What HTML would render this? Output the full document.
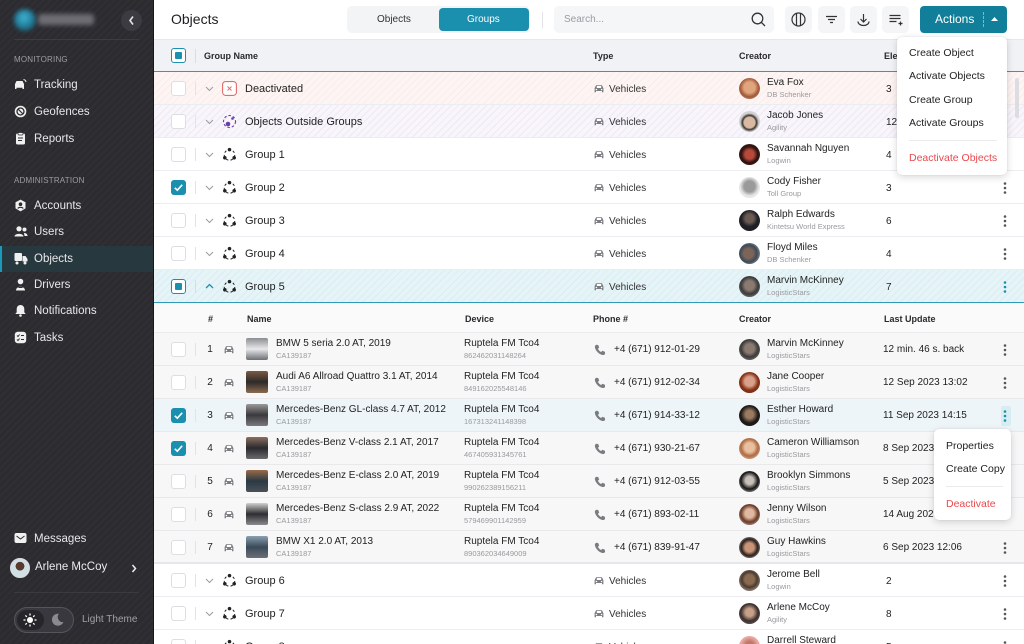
<!DOCTYPE html>
<html><head><meta charset="utf-8">
<style>
*{box-sizing:border-box;margin:0;padding:0}
html,body{width:1024px;height:644px;overflow:hidden;background:#fff;font-family:"Liberation Sans",Arial,sans-serif;color:#222}
#root{position:relative;width:1024px;height:644px;overflow:hidden;background:#fff}
.a{position:absolute}
#sb{position:absolute;left:0;top:0;width:154px;height:644px;background:#2b2b30;background-image:repeating-linear-gradient(135deg,rgba(255,255,255,0.018) 0 2px,rgba(0,0,0,0) 2px 5px);border-right:1px solid #17171a;overflow:hidden}
.si{position:absolute;left:0;width:153px;height:26px;font-size:11.5px;color:#e8e8ea;line-height:26px}
.si span{position:absolute;left:34px}
.si svg{position:absolute;left:14px;top:6px}
.sec{position:absolute;left:14px;font-size:8px;color:#9c9ca2;letter-spacing:0.2px}
.row{position:absolute;left:154px;width:870px;height:33px;border-bottom:1px solid #ecedf0;background:#fff}
.row>*{position:absolute}
.cb{left:17px;top:9px;width:15px;height:15px;border:1px solid #dcdee3;border-radius:3px;background:#fff}
.cbc{left:17px;top:9px;width:15px;height:15px;border-radius:3px;background:#1a8fae}
.cbi{left:17px;top:9px;width:15px;height:15px;border-radius:3px;border:1.5px solid #1a8fae;background:#fff}
.cbi:after{content:"";position:absolute;left:2.5px;top:2.5px;width:7px;height:7px;background:#1a8fae;border-radius:1px}
.sep{left:41px;top:10px;width:1px;height:13px;background:#e2e3e7}
.chev{left:51px;top:14px}
.gi{left:68px;top:9px}
.gn{left:91px;top:1px;line-height:33px;font-size:11px;color:#222}
.car{left:440px;top:12px}
.vt{left:455px;top:1px;line-height:33px;font-size:10px;color:#333}
.av{left:585px;top:6px;width:21px;height:21px;border-radius:50%}
.cn{left:613px;top:5px;font-size:10px;line-height:12px;color:#222;white-space:nowrap}
.cs{left:613px;top:18px;font-size:7.5px;line-height:10px;color:#9a9a9f;white-space:nowrap}
.el{left:732px;top:1px;line-height:33px;font-size:10px;color:#222}
.kb{left:849px;top:10px}
.nr{background:#f7f7f8;border-bottom:1px solid #e9e9ec}
.num{left:51px;width:10px;text-align:center;top:0;line-height:33px;font-size:10px;color:#222}
.ncar{left:70px;top:12px}
.th{left:92px;top:5px;width:22px;height:22px;border-radius:2px}
.nn{left:122px;top:5px;font-size:10px;line-height:12px;color:#222;white-space:nowrap}
.ns{left:122px;top:18px;font-size:7.5px;line-height:10px;color:#9a9a9f}
.dv{left:310px;top:5px;font-size:10px;line-height:12px;color:#222}
.ds{left:310px;top:18px;font-size:7.5px;line-height:10px;color:#9a9a9f}
.phi{left:440px;top:11px}
.pt{left:460px;top:0;line-height:33px;font-size:10px;color:#222}
.lu{left:729px;top:0;line-height:33px;font-size:10px;color:#222;white-space:nowrap}
.hd{font-size:9px;font-weight:bold;color:#2a2a2e;position:absolute}
.ib{position:absolute;top:6px;width:27px;height:27px;background:#f4f5f7;border-radius:5px}
.ib svg{position:absolute;left:6px;top:6px}
.dd{position:absolute;background:#fff;border-radius:5px;box-shadow:0 2px 8px rgba(0,0,0,0.16),0 0 1px rgba(0,0,0,0.15);z-index:20}
.dd div{position:absolute;font-size:10.5px;color:#222;white-space:nowrap}
</style></head><body>
<div id="root">
<svg width="0" height="0" style="position:absolute">
<defs>
<symbol id="grp" viewBox="0 0 16 16"><circle cx="8" cy="8.5" r="5.6" fill="none" stroke="#222" stroke-width="1.1" stroke-dasharray="2.6 2.4"/><circle cx="8" cy="2.8" r="1.9" fill="#222"/><circle cx="3" cy="11.5" r="1.9" fill="#222"/><circle cx="13" cy="11.5" r="1.9" fill="#222"/></symbol>
<symbol id="chv" viewBox="0 0 9 6"><polyline points="1,1 4.5,4.5 8,1" fill="none" stroke="#9a9ca3" stroke-width="1"/></symbol>
<symbol id="car" viewBox="0 0 10 9"><path d="M2 1.2h6l1.4 3v4H8V7H2v1.2H0.6v-4z" fill="#7a7c82"/><rect x="2.8" y="2" width="4.4" height="2" fill="#fff"/><circle cx="2.4" cy="5.5" r="0.8" fill="#fff"/><circle cx="7.6" cy="5.5" r="0.8" fill="#fff"/></symbol>
<symbol id="kb" viewBox="0 0 4 14"><circle cx="2" cy="2.5" r="1.3" fill="#555"/><circle cx="2" cy="7" r="1.3" fill="#555"/><circle cx="2" cy="11.5" r="1.3" fill="#555"/></symbol>
<symbol id="kbt" viewBox="0 0 4 14"><circle cx="2" cy="2.5" r="1.3" fill="#1a8fae"/><circle cx="2" cy="7" r="1.3" fill="#1a8fae"/><circle cx="2" cy="11.5" r="1.3" fill="#1a8fae"/></symbol>
<symbol id="ph" viewBox="0 0 12 12"><path d="M2.2 0.8l2 0.2 1 2.6-1.3 1.1c0.7 1.5 1.8 2.6 3.3 3.3l1.1-1.3 2.6 1 0.2 2c-0.5 1-1.5 1.5-2.6 1.3C5 10.3 1.7 7 0.9 3.4 0.7 2.3 1.2 1.3 2.2 0.8z" fill="#7a7c82"/></symbol>
<symbol id="chk" viewBox="0 0 15 15"><polyline points="3.8,7.8 6.3,10.2 11.2,4.8" fill="none" stroke="#fff" stroke-width="1.6"/></symbol>
</defs></svg>

<!-- SIDEBAR -->
<div id="sb">
  <div class="a" style="left:14px;top:9px;width:22px;height:22px;border-radius:50%;background:radial-gradient(circle at 45% 40%,#3fb6d6,#1d6f8a 60%,#3a3a40);filter:blur(2px)"></div>
  <div class="a" style="left:38px;top:14px;width:56px;height:11px;background:#6d6d74;border-radius:3px;filter:blur(2.5px)"></div>
  <div class="a" style="left:121px;top:10px;width:21px;height:21px;border-radius:50%;background:#3b3b41"></div>
  <svg class="a" style="left:128px;top:15px" width="7" height="11" viewBox="0 0 7 11"><polyline points="5,1.5 2,5.5 5,9.5" fill="none" stroke="#e5e5e7" stroke-width="1.6"/></svg>
  <div class="a" style="left:14px;top:39px;width:125px;height:1px;background:#3c3c42"></div>
  <div class="sec" style="top:55px">MONITORING</div>
  <div class="si" style="top:72px"><svg width="13" height="13" viewBox="0 0 13 13"><path d="M1 6l1.5-3h6L10 6v5H8.5v-1.2h-6V11H1z" fill="#f0f0f0"/><path d="M9.5 1.5a3 3 0 0 1 2.5 2.5" stroke="#f0f0f0" fill="none" stroke-width="1"/></svg><span>Tracking</span></div>
  <div class="si" style="top:99px"><svg width="13" height="13" viewBox="0 0 13 13"><circle cx="6.5" cy="6.5" r="5.8" fill="#f0f0f0"/><circle cx="6.5" cy="6.5" r="3.5" fill="none" stroke="#2b2b30" stroke-width="1.3"/><path d="M4 4l5 5" stroke="#2b2b30" stroke-width="1.2"/></svg><span>Geofences</span></div>
  <div class="si" style="top:126px"><svg width="13" height="13" viewBox="0 0 13 13"><rect x="2" y="1.5" width="9" height="11" rx="1.5" fill="#f0f0f0"/><rect x="4" y="0.5" width="5" height="2.5" rx="1" fill="#f0f0f0" stroke="#2b2b30" stroke-width="0.7"/><path d="M4 6h5M4 8.5h4" stroke="#2b2b30" stroke-width="1"/></svg><span>Reports</span></div>
  <div class="sec" style="top:176px">ADMINISTRATION</div>
  <div class="si" style="top:193px"><svg width="13" height="13" viewBox="0 0 13 13"><path d="M6.5 0.6l5 2.6v6.2l-5 3-5-3V3.2z" fill="#f0f0f0"/><circle cx="6.5" cy="5.2" r="1.8" fill="#2b2b30"/><path d="M3.8 9.5c0.8-1.6 4.6-1.6 5.4 0" stroke="#2b2b30" stroke-width="1.2" fill="none"/></svg><span>Accounts</span></div>
  <div class="si" style="top:219px"><svg width="14" height="13" viewBox="0 0 14 13"><circle cx="5" cy="3.8" r="2.6" fill="#f0f0f0"/><path d="M0.5 11.5c0-3.5 9-3.5 9 0z" fill="#f0f0f0"/><circle cx="10.5" cy="4.5" r="2" fill="#f0f0f0"/><path d="M10 8c2 0 3.5 1 3.5 3h-3z" fill="#f0f0f0"/></svg><span>Users</span></div>
  <div class="a" style="left:0;top:246px;width:153px;height:26px;background:#27393f"></div>
  <div class="a" style="left:0;top:246px;width:2px;height:26px;background:#1a9bbb"></div>
  <div class="si" style="top:246px"><svg width="14" height="13" viewBox="0 0 14 13"><rect x="0.5" y="1" width="7.5" height="8" rx="1" fill="#f0f0f0"/><path d="M8.5 4h3l2 3v2.5h-5z" fill="#f0f0f0"/><circle cx="3" cy="11" r="1.5" fill="#f0f0f0"/><circle cx="11" cy="11" r="1.5" fill="#f0f0f0"/></svg><span>Objects</span></div>
  <div class="si" style="top:272px"><svg width="13" height="13" viewBox="0 0 13 13"><circle cx="6.5" cy="3.5" r="2.8" fill="#f0f0f0"/><path d="M2 12.5c0-5 9-5 9 0z" fill="#f0f0f0"/><path d="M4.5 9.5h4" stroke="#2b2b30" stroke-width="1"/></svg><span>Drivers</span></div>
  <div class="si" style="top:298px"><svg width="13" height="13" viewBox="0 0 13 13"><path d="M6.5 1c2.5 0 3.8 1.8 3.8 4.2v3l1.4 1.8H1.3l1.4-1.8v-3C2.7 2.8 4 1 6.5 1z" fill="#f0f0f0"/><circle cx="6.5" cy="11.5" r="1.3" fill="#f0f0f0"/></svg><span>Notifications</span></div>
  <div class="si" style="top:325px"><svg width="13" height="13" viewBox="0 0 13 13"><rect x="0.8" y="0.8" width="11.4" height="11.4" rx="3" fill="#f0f0f0"/><path d="M3 4.5l1 1 1.6-2M3 8.5l1 1 1.6-2M7 4.5h3M7 8.5h3" stroke="#2b2b30" stroke-width="1" fill="none"/></svg><span>Tasks</span></div>
  <div class="si" style="top:526px"><svg width="13" height="12" viewBox="0 0 13 12"><rect x="0.5" y="1" width="12" height="10" rx="2" fill="#f0f0f0"/><polyline points="2.5,4 6.5,7 10.5,4" stroke="#2b2b30" stroke-width="1" fill="none"/></svg><span>Messages</span></div>
  <div class="a" style="left:10px;top:558px;width:20px;height:20px;border-radius:50%;background:radial-gradient(circle at 50% 40%,#5a3a2c 0 30%,#cfe1e6 32% 100%);border:1px solid #ddd"></div>
  <div class="a" style="left:35px;top:561px;font-size:11.5px;color:#ececee">Arlene McCoy</div>
  <svg class="a" style="left:131px;top:564px" width="6" height="9" viewBox="0 0 6 9"><polyline points="1.5,1 4.5,4.5 1.5,8" fill="none" stroke="#eee" stroke-width="1.5"/></svg>
  <div class="a" style="left:14px;top:592px;width:125px;height:1px;background:#3a3a40"></div>
  <div class="a" style="left:14px;top:607px;width:60px;height:26px;border-radius:13px;background:#38383e;border:1px solid #55555b"></div>
  <div class="a" style="left:17px;top:610px;width:27px;height:20px;border-radius:10px;background:#26262a"></div>
  <svg class="a" style="left:23px;top:613px" width="14" height="14" viewBox="0 0 14 14"><circle cx="7" cy="7" r="3" fill="#fff"/><g stroke="#fff" stroke-width="1.3"><path d="M7 0.5v2M7 11.5v2M0.5 7h2M11.5 7h2M2.4 2.4l1.4 1.4M10.2 10.2l1.4 1.4M2.4 11.6l1.4-1.4M10.2 3.8l1.4-1.4"/></g></svg>
  <svg class="a" style="left:52px;top:613px" width="12" height="13" viewBox="0 0 12 13"><path d="M7 0.8A6 6 0 1 0 11.5 9 5 5 0 0 1 7 0.8z" fill="#8a8a90"/></svg>
  <div class="a" style="left:82px;top:614px;font-size:10px;color:#a0a0a6">Light Theme</div>
</div>

<!-- TOP BAR -->
<div class="a" style="left:154px;top:0;width:870px;height:40px;background:#fff;border-bottom:1px solid #e6e7eb"></div>
<div class="a" style="left:171px;top:11px;font-size:14px;color:#1e1e22">Objects</div>
<div class="a" style="left:347px;top:6px;width:183px;height:27px;background:#f3f4f6;border-radius:5px"></div>
<div class="a" style="left:377px;top:14px;font-size:10px;color:#333">Objects</div>
<div class="a" style="left:439px;top:8px;width:90px;height:23px;background:#1a8fae;border-radius:4px"></div>
<div class="a" style="left:467px;top:14px;font-size:10px;color:#fff">Groups</div>
<div class="a" style="left:542px;top:12px;width:1px;height:16px;background:#e2e3e7"></div>
<div class="a" style="left:554px;top:6px;width:220px;height:27px;background:#f5f6f8;border-radius:5px"></div>
<div class="a" style="left:564px;top:14px;font-size:10px;color:#9a9ca2">Search...</div>
<svg class="a" style="left:751px;top:12px" width="15" height="15" viewBox="0 0 15 15"><circle cx="6.5" cy="6.5" r="5.3" fill="none" stroke="#333" stroke-width="1.3"/><path d="M10.5 10.5l3.5 3.5" stroke="#333" stroke-width="1.3"/></svg>
<div class="ib" style="left:785px"><svg width="15" height="15" viewBox="0 0 15 15"><circle cx="7.5" cy="7.5" r="6.5" fill="none" stroke="#333" stroke-width="1.2"/><path d="M5.5 1.5v12M9.5 1.5v12" stroke="#333" stroke-width="1.2"/></svg></div>
<div class="ib" style="left:818px"><svg width="15" height="15" viewBox="0 0 15 15"><path d="M2 4.5h11M4 7.5h7M6 10.5h3" stroke="#333" stroke-width="1.2"/></svg></div>
<div class="ib" style="left:850px"><svg width="15" height="15" viewBox="0 0 15 15"><path d="M7.5 2v8M4.5 7l3 3 3-3" stroke="#333" stroke-width="1.2" fill="none"/><path d="M2 9.5a5.5 4 0 0 0 11 0" stroke="#333" stroke-width="1.2" fill="none"/></svg></div>
<div class="ib" style="left:882px"><svg width="15" height="15" viewBox="0 0 15 15"><path d="M1.5 3.5h11M1.5 6.5h11M1.5 9.5h7M10.5 11.5h4M12.5 9.5v4" stroke="#333" stroke-width="1.2"/></svg></div>
<div class="a" style="left:920px;top:6px;width:87px;height:27px;background:#127f9a;border-radius:4px"></div>
<div class="a" style="left:935px;top:12px;font-size:12px;color:#fff">Actions</div>
<div class="a" style="left:983px;top:12px;width:0;height:15px;border-left:1px dashed rgba(255,255,255,0.45)"></div>
<svg class="a" style="left:990px;top:16px" width="9" height="6" viewBox="0 0 9 6"><path d="M1 5l3.5-4 3.5 4z" fill="#fff"/></svg>

<!-- TABLE HEADER -->
<div class="a" style="left:154px;top:40px;width:870px;height:32px;background:#f1f2f5;border-bottom:1px solid #2f9bb6"></div>
<div class="a cbi" style="left:171px;top:48px;position:absolute"></div>
<div class="a" style="left:195px;top:49px;width:1px;height:14px;background:#dcdde2"></div>
<div class="hd" style="left:204px;top:51px">Group Name</div>
<div class="hd" style="left:593px;top:51px">Type</div>
<div class="hd" style="left:739px;top:51px">Creator</div>
<div class="hd" style="left:884px;top:51px">Elements</div>

<!-- GROUP ROWS -->
<div class="row" style="top:72px;background:repeating-linear-gradient(135deg,#fbecea 0 1px,#fdf5f4 1px 5px)">
  <div class="cb"></div><div class="sep"></div><svg class="chev" width="9" height="6"><use href="#chv"/></svg>
  <svg class="gi" style="left:68px;top:9px" width="15" height="15" viewBox="0 0 15 15"><rect x="0.6" y="0.6" width="13.8" height="13.8" rx="3" fill="#fff" stroke="#e56b6b" stroke-width="1.1"/><path d="M5.5 5.5l4 4M9.5 5.5l-4 4" stroke="#e56b6b" stroke-width="1"/></svg>
  <div class="gn">Deactivated</div>
  <svg class="car" width="10" height="9"><use href="#car"/></svg><div class="vt">Vehicles</div>
  <div class="av" style="background:radial-gradient(circle at 50% 45%,#e0a57c 0 35%,#a0583a 60%,#d6b39a)"></div>
  <div class="cn">Eva Fox</div><div class="cs">DB Schenker</div><div class="el">3</div>
</div>
<div class="row" style="top:105px;background:repeating-linear-gradient(135deg,#efe9f6 0 1px,#f8f5fb 1px 5px)">
  <div class="cb"></div><div class="sep"></div><svg class="chev" width="9" height="6"><use href="#chv"/></svg>
  <svg class="gi" style="left:68px;top:9px" width="15" height="15" viewBox="0 0 15 15"><circle cx="7.5" cy="7.5" r="6" fill="none" stroke="#6a3fa3" stroke-width="1.1" stroke-dasharray="2.5 2"/><circle cx="6" cy="10" r="2.3" fill="#6a3fa3"/><circle cx="10.5" cy="4.5" r="1.3" fill="#6a3fa3"/></svg>
  <div class="gn">Objects Outside Groups</div>
  <svg class="car" width="10" height="9"><use href="#car"/></svg><div class="vt">Vehicles</div>
  <div class="av" style="background:radial-gradient(circle at 50% 55%,#d9b9a1 0 35%,#3b3432 45%,#d2d2d2 60%)"></div>
  <div class="cn">Jacob Jones</div><div class="cs">Agility</div><div class="el">12</div>
</div>
<div class="row" style="top:138px">
  <div class="cb"></div><div class="sep"></div><svg class="chev" width="9" height="6"><use href="#chv"/></svg>
  <svg class="gi" width="15" height="15"><use href="#grp"/></svg><div class="gn">Group 1</div>
  <svg class="car" width="10" height="9"><use href="#car"/></svg><div class="vt">Vehicles</div>
  <div class="av" style="background:radial-gradient(circle at 50% 50%,#b8483a 0 30%,#2a1412 55%,#6a1e1a)"></div>
  <div class="cn">Savannah Nguyen</div><div class="cs">Logwin</div><div class="el">4</div>
</div>
<div class="row" style="top:171px">
  <div class="cbc"><svg width="15" height="15"><use href="#chk"/></svg></div><div class="sep"></div><svg class="chev" width="9" height="6"><use href="#chv"/></svg>
  <svg class="gi" width="15" height="15"><use href="#grp"/></svg><div class="gn">Group 2</div>
  <svg class="car" width="10" height="9"><use href="#car"/></svg><div class="vt">Vehicles</div>
  <div class="av" style="background:radial-gradient(circle at 50% 45%,#9a9a9a 0 35%,#e6e6e6 60%)"></div>
  <div class="cn">Cody Fisher</div><div class="cs">Toll Group</div><div class="el">3</div>
  <svg class="kb" width="4" height="14"><use href="#kb"/></svg>
</div>
<div class="row" style="top:204px">
  <div class="cb"></div><div class="sep"></div><svg class="chev" width="9" height="6"><use href="#chv"/></svg>
  <svg class="gi" width="15" height="15"><use href="#grp"/></svg><div class="gn">Group 3</div>
  <svg class="car" width="10" height="9"><use href="#car"/></svg><div class="vt">Vehicles</div>
  <div class="av" style="background:radial-gradient(circle at 50% 40%,#6b5a52 0 25%,#1e2026 50%)"></div>
  <div class="cn">Ralph Edwards</div><div class="cs">Kintetsu World Express</div><div class="el">6</div>
  <svg class="kb" width="4" height="14"><use href="#kb"/></svg>
</div>
<div class="row" style="top:237px">
  <div class="cb"></div><div class="sep"></div><svg class="chev" width="9" height="6"><use href="#chv"/></svg>
  <svg class="gi" width="15" height="15"><use href="#grp"/></svg><div class="gn">Group 4</div>
  <svg class="car" width="10" height="9"><use href="#car"/></svg><div class="vt">Vehicles</div>
  <div class="av" style="background:radial-gradient(circle at 45% 50%,#7c6558 0 30%,#3e4a57 55%,#c8ccd0)"></div>
  <div class="cn">Floyd Miles</div><div class="cs">DB Schenker</div><div class="el">4</div>
  <svg class="kb" width="4" height="14"><use href="#kb"/></svg>
</div>
<div class="row" style="top:270px;background:repeating-linear-gradient(135deg,#d8eef3 0 1px,#e6f4f7 1px 5px);border-bottom:1px solid #2f9bb6">
  <div class="cbi"></div><div class="sep" style="background:#cfe0e5"></div>
  <svg class="chev" width="9" height="6" style="top:13px"><polyline points="1,5 4.5,1.5 8,5" fill="none" stroke="#1a8fae" stroke-width="1.3"/></svg>
  <svg class="gi" width="15" height="15"><use href="#grp"/></svg><div class="gn">Group 5</div>
  <svg class="car" width="10" height="9"><use href="#car"/></svg><div class="vt">Vehicles</div>
  <div class="av" style="background:radial-gradient(circle at 50% 45%,#8a7a70 0 30%,#3a3a3a 55%,#9a9a9a)"></div>
  <div class="cn">Marvin McKinney</div><div class="cs">LogisticStars</div><div class="el">7</div>
  <svg class="kb" width="4" height="14"><use href="#kbt"/></svg>
</div>

<!-- NESTED HEADER -->
<div class="a" style="left:154px;top:303px;width:870px;height:30px;background:#fafafb;border-bottom:1px solid #ececef"></div>
<div class="hd" style="left:208px;top:314px;font-weight:bold">#</div>
<div class="hd" style="left:247px;top:314px">Name</div>
<div class="hd" style="left:465px;top:314px">Device</div>
<div class="hd" style="left:593px;top:314px">Phone #</div>
<div class="hd" style="left:739px;top:314px">Creator</div>
<div class="hd" style="left:884px;top:314px">Last Update</div>

<!-- NESTED ROWS -->
<div class="row nr" style="top:333px">
  <div class="cb"></div><div class="sep"></div><div class="num">1</div><svg class="ncar" width="10" height="9"><use href="#car"/></svg>
  <div class="th" style="background:linear-gradient(#8a8d92,#e8e8ea 50%,#6b6e73)"></div>
  <div class="nn">BMW 5 seria 2.0 AT, 2019</div><div class="ns">CA139187</div>
  <div class="dv">Ruptela FM Tco4</div><div class="ds">862462031148264</div>
  <svg class="phi" width="12" height="12"><use href="#ph"/></svg><div class="pt">+4 (671) 912-01-29</div>
  <div class="av" style="background:radial-gradient(circle at 50% 45%,#8a7a70 0 30%,#3a3a3a 55%,#9a9a9a)"></div>
  <div class="cn">Marvin McKinney</div><div class="cs">LogisticStars</div>
  <div class="lu">12 min. 46 s. back</div><svg class="kb" width="4" height="14"><use href="#kb"/></svg>
</div>
<div class="row nr" style="top:366px">
  <div class="cb"></div><div class="sep"></div><div class="num">2</div><svg class="ncar" width="10" height="9"><use href="#car"/></svg>
  <div class="th" style="background:linear-gradient(#7a5a44,#2e2a28 50%,#8a6a50)"></div>
  <div class="nn">Audi A6 Allroad Quattro 3.1 AT, 2014</div><div class="ns">CA139187</div>
  <div class="dv">Ruptela FM Tco4</div><div class="ds">849162025548146</div>
  <svg class="phi" width="12" height="12"><use href="#ph"/></svg><div class="pt">+4 (671) 912-02-34</div>
  <div class="av" style="background:radial-gradient(circle at 50% 45%,#d8a08a 0 30%,#8a3418 55%,#5a2412)"></div>
  <div class="cn">Jane Cooper</div><div class="cs">LogisticStars</div>
  <div class="lu">12 Sep 2023 13:02</div><svg class="kb" width="4" height="14"><use href="#kb"/></svg>
</div>
<div class="row nr" style="top:399px;background:#eef5f8">
  <div class="cbc"><svg width="15" height="15"><use href="#chk"/></svg></div><div class="sep"></div><div class="num">3</div><svg class="ncar" width="10" height="9"><use href="#car"/></svg>
  <div class="th" style="background:linear-gradient(#9a9a9a,#3a3a3e 50%,#7a7a7e)"></div>
  <div class="nn">Mercedes-Benz GL-class 4.7 AT, 2012</div><div class="ns">CA139187</div>
  <div class="dv">Ruptela FM Tco4</div><div class="ds">167313241148398</div>
  <svg class="phi" width="12" height="12"><use href="#ph"/></svg><div class="pt">+4 (671) 914-33-12</div>
  <div class="av" style="background:radial-gradient(circle at 50% 45%,#9a7a60 0 25%,#1e1a18 55%)"></div>
  <div class="cn">Esther Howard</div><div class="cs">LogisticStars</div>
  <div class="lu">11 Sep 2023 14:15</div>
  <div style="left:847px;top:7px;width:10px;height:20px;background:#d6edf2;border-radius:2px"></div>
  <svg class="kb" width="4" height="14"><use href="#kbt"/></svg>
</div>
<div class="row nr" style="top:432px">
  <div class="cbc"><svg width="15" height="15"><use href="#chk"/></svg></div><div class="sep"></div><div class="num">4</div><svg class="ncar" width="10" height="9"><use href="#car"/></svg>
  <div class="th" style="background:linear-gradient(#8a7060,#2a2a2e 50%,#6a6a6e)"></div>
  <div class="nn">Mercedes-Benz V-class 2.1 AT, 2017</div><div class="ns">CA139187</div>
  <div class="dv">Ruptela FM Tco4</div><div class="ds">467405931345761</div>
  <svg class="phi" width="12" height="12"><use href="#ph"/></svg><div class="pt">+4 (671) 930-21-67</div>
  <div class="av" style="background:radial-gradient(circle at 50% 45%,#e8c0a0 0 30%,#b06a40 55%,#e6dcd4)"></div>
  <div class="cn">Cameron Williamson</div><div class="cs">LogisticStars</div>
  <div class="lu">8 Sep 2023 10:21</div>
</div>
<div class="row nr" style="top:465px">
  <div class="cb"></div><div class="sep"></div><div class="num">5</div><svg class="ncar" width="10" height="9"><use href="#car"/></svg>
  <div class="th" style="background:linear-gradient(#9a6a4a,#2a3a44 50%,#4a5058)"></div>
  <div class="nn">Mercedes-Benz E-class 2.0 AT, 2019</div><div class="ns">CA139187</div>
  <div class="dv">Ruptela FM Tco4</div><div class="ds">990262389156211</div>
  <svg class="phi" width="12" height="12"><use href="#ph"/></svg><div class="pt">+4 (671) 912-03-55</div>
  <div class="av" style="background:radial-gradient(circle at 50% 45%,#c8c0b8 0 25%,#161616 55%,#e8e8e8)"></div>
  <div class="cn">Brooklyn Simmons</div><div class="cs">LogisticStars</div>
  <div class="lu">5 Sep 2023 09:14</div>
</div>
<div class="row nr" style="top:498px">
  <div class="cb"></div><div class="sep"></div><div class="num">6</div><svg class="ncar" width="10" height="9"><use href="#car"/></svg>
  <div class="th" style="background:linear-gradient(#d0d0d0,#2e2e32 50%,#8a8a8e)"></div>
  <div class="nn">Mercedes-Benz S-class 2.9 AT, 2022</div><div class="ns">CA139187</div>
  <div class="dv">Ruptela FM Tco4</div><div class="ds">579469901142959</div>
  <svg class="phi" width="12" height="12"><use href="#ph"/></svg><div class="pt">+4 (671) 893-02-11</div>
  <div class="av" style="background:radial-gradient(circle at 50% 45%,#e0b8a0 0 28%,#6a3a28 55%,#d8d0c8)"></div>
  <div class="cn">Jenny Wilson</div><div class="cs">LogisticStars</div>
  <div class="lu">14 Aug 2023 17:40</div>
</div>
<div class="row nr" style="top:531px;border-bottom:2px solid #e6e7ea">
  <div class="cb"></div><div class="sep"></div><div class="num">7</div><svg class="ncar" width="10" height="9"><use href="#car"/></svg>
  <div class="th" style="background:linear-gradient(#8aa0b0,#3a4a58 50%,#6a7078)"></div>
  <div class="nn">BMW X1 2.0 AT, 2013</div><div class="ns">CA139187</div>
  <div class="dv">Ruptela FM Tco4</div><div class="ds">890362034649009</div>
  <svg class="phi" width="12" height="12"><use href="#ph"/></svg><div class="pt">+4 (671) 839-91-47</div>
  <div class="av" style="background:radial-gradient(circle at 50% 50%,#c89478 0 30%,#2a201c 55%,#e8e2dc)"></div>
  <div class="cn">Guy Hawkins</div><div class="cs">LogisticStars</div>
  <div class="lu">6 Sep 2023 12:06</div><svg class="kb" width="4" height="14"><use href="#kb"/></svg>
</div>

<!-- GROUP 6-8 -->
<div class="row" style="top:564px">
  <div class="cb"></div><div class="sep"></div><svg class="chev" width="9" height="6"><use href="#chv"/></svg>
  <svg class="gi" width="15" height="15"><use href="#grp"/></svg><div class="gn">Group 6</div>
  <svg class="car" width="10" height="9"><use href="#car"/></svg><div class="vt">Vehicles</div>
  <div class="av" style="background:radial-gradient(circle at 50% 45%,#8a6a50 0 30%,#4a3a30 50%,#d8ccc0)"></div>
  <div class="cn">Jerome Bell</div><div class="cs">Logwin</div><div class="el">2</div>
  <svg class="kb" width="4" height="14"><use href="#kb"/></svg>
</div>
<div class="row" style="top:597px">
  <div class="cb"></div><div class="sep"></div><svg class="chev" width="9" height="6"><use href="#chv"/></svg>
  <svg class="gi" width="15" height="15"><use href="#grp"/></svg><div class="gn">Group 7</div>
  <svg class="car" width="10" height="9"><use href="#car"/></svg><div class="vt">Vehicles</div>
  <div class="av" style="background:radial-gradient(circle at 50% 45%,#c8a088 0 25%,#3a3030 55%,#8a7060)"></div>
  <div class="cn">Arlene McCoy</div><div class="cs">Agility</div><div class="el">8</div>
  <svg class="kb" width="4" height="14"><use href="#kb"/></svg>
</div>
<div class="row" style="top:630px">
  <div class="cb"></div><div class="sep"></div><svg class="chev" width="9" height="6"><use href="#chv"/></svg>
  <svg class="gi" width="15" height="15"><use href="#grp"/></svg><div class="gn">Group 8</div>
  <svg class="car" width="10" height="9"><use href="#car"/></svg><div class="vt">Vehicles</div>
  <div class="av" style="background:radial-gradient(circle at 50% 45%,#c07868 0 25%,#eaa8a4 55%)"></div>
  <div class="cn">Darrell Steward</div><div class="cs">DB Schenker</div><div class="el">5</div>
  <svg class="kb" width="4" height="14"><use href="#kb"/></svg>
</div>

<!-- scrollbar -->
<div class="a" style="left:1015px;top:78px;width:4px;height:40px;background:#dcdde0;border-radius:2px"></div>

<!-- ACTIONS DROPDOWN -->
<div class="dd" style="left:897px;top:37px;width:110px;height:138px">
  <div style="left:12px;top:10px">Create Object</div>
  <div style="left:12px;top:33px">Activate Objects</div>
  <div style="left:12px;top:57px">Create Group</div>
  <div style="left:12px;top:80px">Activate Groups</div>
  <div style="left:12px;top:103px;width:88px;height:1px;background:#ebebee"></div>
  <div style="left:12px;top:115px;color:#e9494d">Deactivate Objects</div>
</div>

<!-- ROW DROPDOWN -->
<div class="dd" style="left:934px;top:429px;width:77px;height:91px">
  <div style="left:12px;top:11px">Properties</div>
  <div style="left:12px;top:34px">Create Copy</div>
  <div style="left:12px;top:57px;width:57px;height:1px;background:#ebebee"></div>
  <div style="left:12px;top:69px;color:#e9494d">Deactivate</div>
</div>
</div>
</body></html>
